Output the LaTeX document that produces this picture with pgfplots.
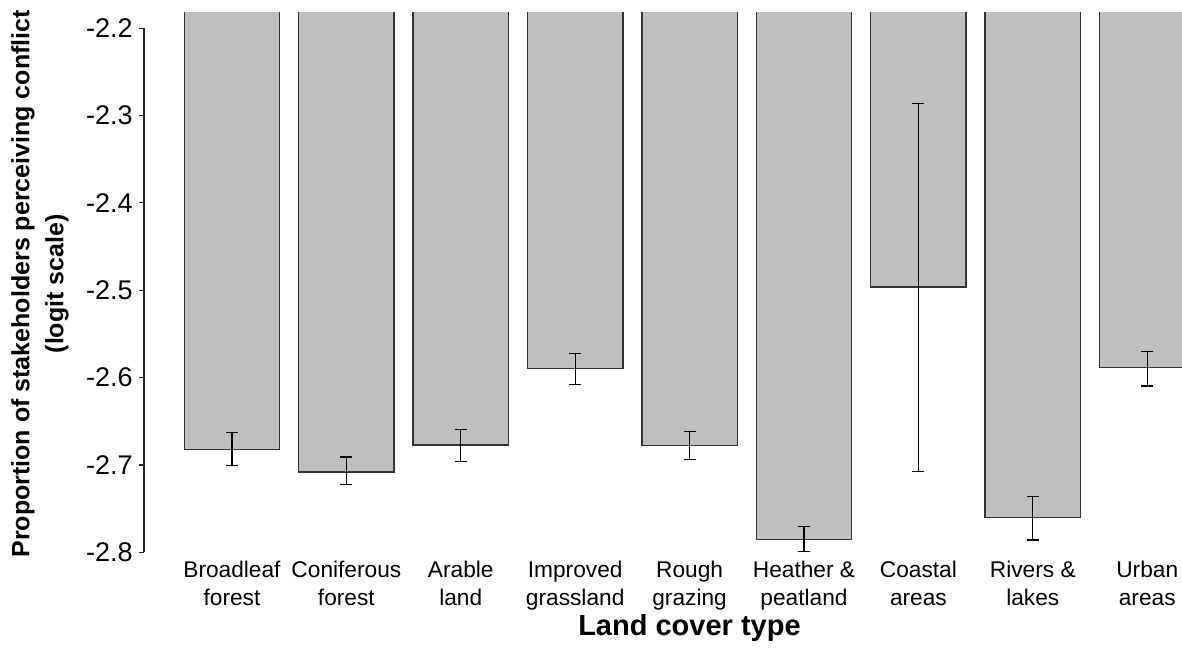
\documentclass[border=0pt]{standalone}
\usepackage{pgfplots}
\pgfplotsset{compat=1.18}
\usepackage{pgfplotstable}
\usepackage{fontspec}
\setmainfont{Liberation Sans}

\pgfplotstableread{
x y ep em
0 -2.682 0.019 0.019
1 -2.708 0.017 0.0145
2 -2.677 0.018 0.019
3 -2.5895 0.017 0.018
4 -2.678 0.016 0.016
5 -2.785 0.015 0.0144
6 -2.4965 0.2105 0.211
7 -2.7598 0.024 0.026
8 -2.5887 0.019 0.021
}\datatable

\begin{document}
\begin{tikzpicture}
\begin{axis}[
  scale only axis,
  width=519pt, height=272.85pt,
  xmin=-0.769, xmax=8.304,
  ymin=-2.805, ymax=-2.1804,
  clip mode=individual,
  axis line style={draw=none},
  ybar, bar width=0.833,
  xtick={0,...,8},
  xticklabels={{Broadleaf\\forest},{Coniferous\\forest},{Arable\\land},{Improved\\grassland},{Rough\\grazing},{Heather \&\\peatland},{Coastal\\areas},{Rivers \&\\lakes},{Urban\\areas}},
  x tick style={draw=none},
  xticklabel style={anchor=north, inner sep=0pt, yshift=0.5pt, align=center, font=\fontsize{11.35}{14}\selectfont},
  ytick={-2.8,-2.7,-2.6,-2.5,-2.4,-2.3,-2.2},
  yticklabels={-2.8,-2.7,-2.6,-2.5,-2.4,-2.3,-2.2},
  ytick pos=left,
  tick align=outside,
  major tick length=2.5pt,
  y tick style={black!85, line width=0.6pt},
  yticklabel style={anchor=east, inner sep=0pt, xshift=-3pt, font=\fontsize{13.5}{16}\selectfont},
  ylabel={Proportion of stakeholders perceiving conflict\\(logit scale)},
  ylabel style={at={(axis description cs:-0.1002,0.5)}, anchor=center, align=center, font=\bfseries\fontsize{12.5}{17}\selectfont},
  xlabel={Land cover type},
  xlabel style={at={(axis description cs:0.5255,-0.1307)}, anchor=center, font=\bfseries\fontsize{14.5}{17}\selectfont},
]
\addplot[fill=black!25, draw=black!80, line width=0.7pt,
  error bars/.cd, y dir=both, y explicit,
  error bar style={black, line width=0.6pt},
  error mark options={rotate=90, mark size=3pt, black, line width=0.6pt}]
  table[x=x, y=y, y error plus=ep, y error minus=em]{\datatable};
\fill[white] ([yshift=-0.6pt]rel axis cs:0,1) rectangle ([yshift=0.6pt]rel axis cs:1,1);
\draw[black!85, line width=0.6pt] (axis cs:-0.769,-2.2) -- (axis cs:-0.769,-2.8);
\end{axis}
\pgfresetboundingbox
\path ([shift={(-72pt,-47.65pt)}]current axis.south west) rectangle ([shift={(0pt,5.5pt)}]current axis.north east);
\end{tikzpicture}
\end{document}
